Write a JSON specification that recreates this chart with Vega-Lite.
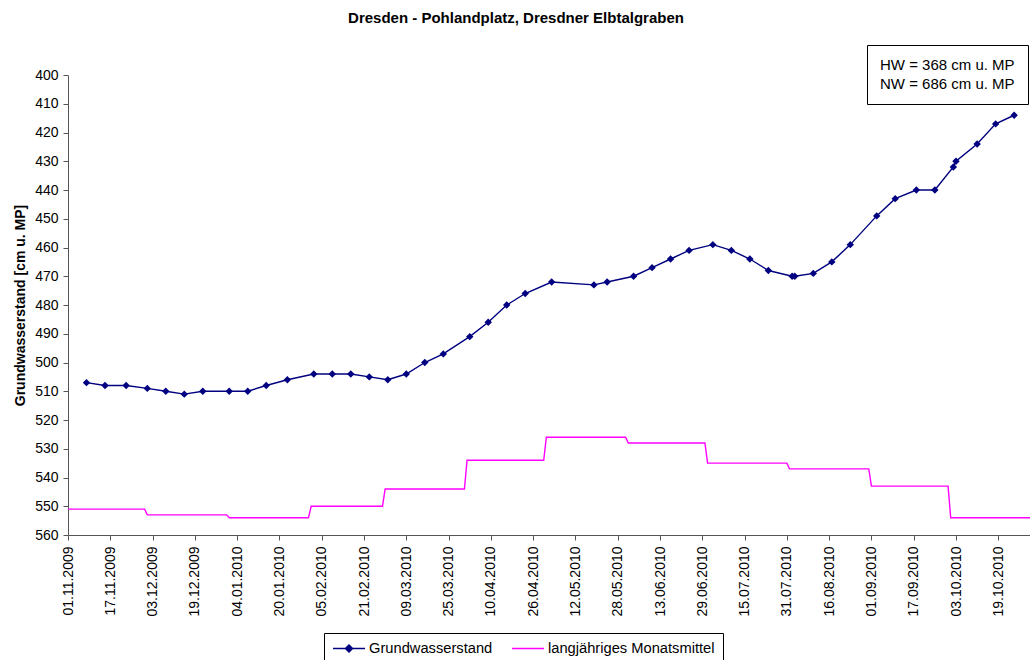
{
  "$schema": "https://vega.github.io/schema/vega-lite/v6.json",
  "width": 962,
  "height": 460,
  "autosize": {"type": "none"},
  "padding": {"left": 68, "top": 75, "right": 0, "bottom": 125},
  "background": "white",
  "config": {
    "view": {"stroke": null},
    "font": "Liberation Sans",
    "axis": {
      "domainColor": "#555555",
      "tickColor": "#555555",
      "labelColor": "black",
      "labelFont": "Liberation Sans",
      "labelFontSize": 14,
      "tickSize": 5,
      "grid": false,
      "titleColor": "black",
      "titleFont": "Liberation Sans"
    },
    "legend": {
      "labelFont": "Liberation Sans",
      "labelColor": "black"
    }
  },
  "title": {
    "text": "Dresden - Pohlandplatz, Dresdner Elbtalgraben",
    "font": "Liberation Sans",
    "fontSize": 15,
    "fontWeight": "bold",
    "color": "black",
    "anchor": "middle",
    "dx": -33,
    "dy": 15,
    "offset": 22,
    "baseline": "alphabetic"
  },
  "layer": [
    {
      "data": {
        "values": [
          {"series": "Grundwasserstand", "date": "2009-11-08", "value": 507},
          {"series": "Grundwasserstand", "date": "2009-11-15", "value": 508},
          {"series": "Grundwasserstand", "date": "2009-11-23", "value": 508},
          {"series": "Grundwasserstand", "date": "2009-12-01", "value": 509},
          {"series": "Grundwasserstand", "date": "2009-12-08", "value": 510},
          {"series": "Grundwasserstand", "date": "2009-12-15", "value": 511},
          {"series": "Grundwasserstand", "date": "2009-12-22", "value": 510},
          {"series": "Grundwasserstand", "date": "2010-01-01", "value": 510},
          {"series": "Grundwasserstand", "date": "2010-01-08", "value": 510},
          {"series": "Grundwasserstand", "date": "2010-01-15", "value": 508},
          {"series": "Grundwasserstand", "date": "2010-01-23", "value": 506},
          {"series": "Grundwasserstand", "date": "2010-02-02", "value": 504},
          {"series": "Grundwasserstand", "date": "2010-02-09", "value": 504},
          {"series": "Grundwasserstand", "date": "2010-02-16", "value": 504},
          {"series": "Grundwasserstand", "date": "2010-02-23", "value": 505},
          {"series": "Grundwasserstand", "date": "2010-03-02", "value": 506},
          {"series": "Grundwasserstand", "date": "2010-03-09", "value": 504},
          {"series": "Grundwasserstand", "date": "2010-03-16", "value": 500},
          {"series": "Grundwasserstand", "date": "2010-03-23", "value": 497},
          {"series": "Grundwasserstand", "date": "2010-04-02", "value": 491},
          {"series": "Grundwasserstand", "date": "2010-04-09", "value": 486},
          {"series": "Grundwasserstand", "date": "2010-04-16", "value": 480},
          {"series": "Grundwasserstand", "date": "2010-04-23", "value": 476},
          {"series": "Grundwasserstand", "date": "2010-05-03", "value": 472},
          {"series": "Grundwasserstand", "date": "2010-05-19", "value": 473},
          {"series": "Grundwasserstand", "date": "2010-05-24", "value": 472},
          {"series": "Grundwasserstand", "date": "2010-06-03", "value": 470},
          {"series": "Grundwasserstand", "date": "2010-06-10", "value": 467},
          {"series": "Grundwasserstand", "date": "2010-06-17", "value": 464},
          {"series": "Grundwasserstand", "date": "2010-06-24", "value": 461},
          {"series": "Grundwasserstand", "date": "2010-07-03", "value": 459},
          {"series": "Grundwasserstand", "date": "2010-07-10", "value": 461},
          {"series": "Grundwasserstand", "date": "2010-07-17", "value": 464},
          {"series": "Grundwasserstand", "date": "2010-07-24", "value": 468},
          {"series": "Grundwasserstand", "date": "2010-08-02", "value": 470},
          {"series": "Grundwasserstand", "date": "2010-08-03", "value": 470},
          {"series": "Grundwasserstand", "date": "2010-08-10", "value": 469},
          {"series": "Grundwasserstand", "date": "2010-08-17", "value": 465},
          {"series": "Grundwasserstand", "date": "2010-08-24", "value": 459},
          {"series": "Grundwasserstand", "date": "2010-09-03", "value": 449},
          {"series": "Grundwasserstand", "date": "2010-09-10", "value": 443},
          {"series": "Grundwasserstand", "date": "2010-09-18", "value": 440},
          {"series": "Grundwasserstand", "date": "2010-09-25", "value": 440},
          {"series": "Grundwasserstand", "date": "2010-10-02", "value": 432},
          {"series": "Grundwasserstand", "date": "2010-10-03", "value": 430},
          {"series": "Grundwasserstand", "date": "2010-10-11", "value": 424},
          {"series": "Grundwasserstand", "date": "2010-10-18", "value": 417},
          {"series": "Grundwasserstand", "date": "2010-10-25", "value": 414},
          {"series": "langjähriges Monatsmittel", "date": "2009-11-01", "value": 551},
          {"series": "langjähriges Monatsmittel", "date": "2009-11-30", "value": 551},
          {"series": "langjähriges Monatsmittel", "date": "2009-12-01", "value": 553},
          {"series": "langjähriges Monatsmittel", "date": "2009-12-31", "value": 553},
          {"series": "langjähriges Monatsmittel", "date": "2010-01-01", "value": 554},
          {"series": "langjähriges Monatsmittel", "date": "2010-01-31", "value": 554},
          {"series": "langjähriges Monatsmittel", "date": "2010-02-01", "value": 550},
          {"series": "langjähriges Monatsmittel", "date": "2010-02-28", "value": 550},
          {"series": "langjähriges Monatsmittel", "date": "2010-03-01", "value": 544},
          {"series": "langjähriges Monatsmittel", "date": "2010-03-31", "value": 544},
          {"series": "langjähriges Monatsmittel", "date": "2010-04-01", "value": 534},
          {"series": "langjähriges Monatsmittel", "date": "2010-04-30", "value": 534},
          {"series": "langjähriges Monatsmittel", "date": "2010-05-01", "value": 526},
          {"series": "langjähriges Monatsmittel", "date": "2010-05-31", "value": 526},
          {"series": "langjähriges Monatsmittel", "date": "2010-06-01", "value": 528},
          {"series": "langjähriges Monatsmittel", "date": "2010-06-30", "value": 528},
          {"series": "langjähriges Monatsmittel", "date": "2010-07-01", "value": 535},
          {"series": "langjähriges Monatsmittel", "date": "2010-07-31", "value": 535},
          {"series": "langjähriges Monatsmittel", "date": "2010-08-01", "value": 537},
          {"series": "langjähriges Monatsmittel", "date": "2010-08-31", "value": 537},
          {"series": "langjähriges Monatsmittel", "date": "2010-09-01", "value": 543},
          {"series": "langjähriges Monatsmittel", "date": "2010-09-30", "value": 543},
          {"series": "langjähriges Monatsmittel", "date": "2010-10-01", "value": 554},
          {"series": "langjähriges Monatsmittel", "date": "2010-10-31", "value": 554}
        ]
      },
      "encoding": {
        "x": {
          "field": "date",
          "type": "temporal",
          "scale": {
            "type": "utc",
            "domain": [
              {"year": 2009, "month": 11, "date": 1, "utc": true},
              {"year": 2010, "month": 10, "date": 31, "utc": true}
            ]
          },
          "axis": {
            "title": null,
            "format": "%d.%m.%Y",
            "labelAngle": -90,
            "labelPadding": 6,
            "labelOverlap": false,
            "labelFlush": false,
            "values": [
              {"year": 2009, "month": 11, "date": 1, "utc": true},
              {"year": 2009, "month": 11, "date": 17, "utc": true},
              {"year": 2009, "month": 12, "date": 3, "utc": true},
              {"year": 2009, "month": 12, "date": 19, "utc": true},
              {"year": 2010, "month": 1, "date": 4, "utc": true},
              {"year": 2010, "month": 1, "date": 20, "utc": true},
              {"year": 2010, "month": 2, "date": 5, "utc": true},
              {"year": 2010, "month": 2, "date": 21, "utc": true},
              {"year": 2010, "month": 3, "date": 9, "utc": true},
              {"year": 2010, "month": 3, "date": 25, "utc": true},
              {"year": 2010, "month": 4, "date": 10, "utc": true},
              {"year": 2010, "month": 4, "date": 26, "utc": true},
              {"year": 2010, "month": 5, "date": 12, "utc": true},
              {"year": 2010, "month": 5, "date": 28, "utc": true},
              {"year": 2010, "month": 6, "date": 13, "utc": true},
              {"year": 2010, "month": 6, "date": 29, "utc": true},
              {"year": 2010, "month": 7, "date": 15, "utc": true},
              {"year": 2010, "month": 7, "date": 31, "utc": true},
              {"year": 2010, "month": 8, "date": 16, "utc": true},
              {"year": 2010, "month": 9, "date": 1, "utc": true},
              {"year": 2010, "month": 9, "date": 17, "utc": true},
              {"year": 2010, "month": 10, "date": 3, "utc": true},
              {"year": 2010, "month": 10, "date": 19, "utc": true}
            ]
          }
        },
        "y": {
          "field": "value",
          "type": "quantitative",
          "scale": {"domain": [400, 560], "reverse": true, "nice": false, "zero": false},
          "axis": {
            "title": "Grundwasserstand [cm u. MP]",
            "titleFontSize": 14,
            "titleFontWeight": "bold",
            "titlePadding": 7,
            "labelPadding": 5,
            "labelOverlap": false,
            "labelFlush": false,
            "values": [400, 410, 420, 430, 440, 450, 460, 470, 480, 490, 500, 510, 520, 530, 540, 550, 560]
          }
        }
      },
      "layer": [
        {
          "mark": {"type": "line", "strokeWidth": 1.4, "clip": false},
          "encoding": {
            "color": {
              "field": "series",
              "type": "nominal",
              "scale": {
                "domain": ["Grundwasserstand", "langjähriges Monatsmittel"],
                "range": ["#000080", "#FF00FF"]
              },
              "legend": {
                "title": null,
                "orient": "none",
                "legendX": 256,
                "legendY": 558,
                "direction": "horizontal",
                "strokeColor": "black",
                "fillColor": "white",
                "padding": 8,
                "labelFontSize": 14.7,
                "labelLimit": 300,
                "labelOffset": 3,
                "columnPadding": 18,
                "symbolSize": 1024,
                "clipHeight": 15,
                "symbolStrokeWidth": 1.5,
                "encode": {
                  "symbols": {
                    "update": {
                      "shape": {"signal": "datum.value === 'Grundwasserstand' ? 'M-1,0H1M0,-0.22L0.22,0L0,0.22L-0.22,0Z' : 'M-1,0H1'"},
                      "fill": {"signal": "datum.value === 'Grundwasserstand' ? '#000080' : 'transparent'"},
                      "stroke": {"signal": "datum.value === 'Grundwasserstand' ? '#000080' : '#FF00FF'"},
                      "strokeWidth": {"value": 1.5},
                      "opacity": {"value": 1}
                    }
                  }
                }
              }
            }
          }
        },
        {
          "transform": [{"filter": "datum.series === 'Grundwasserstand'"}],
          "mark": {"type": "point", "shape": "diamond", "filled": true, "size": 55, "color": "#000080", "opacity": 1, "clip": false}
        }
      ]
    },
    {
      "data": {"values": [{"note": "HW = 368 cm u. MP"}, {"note": "NW = 686 cm u. MP"}]},
      "mark": {"type": "point", "opacity": 0},
      "encoding": {
        "shape": {
          "field": "note",
          "type": "nominal",
          "legend": {
            "title": null,
            "orient": "none",
            "legendX": 799,
            "legendY": -30,
            "direction": "vertical",
            "strokeColor": "black",
            "fillColor": "white",
            "padding": 12.5,
            "labelFontSize": 15,
            "labelLimit": 300,
            "labelOffset": -14.5,
            "rowPadding": 2.5,
            "clipHeight": 15,
            "symbolSize": 0,
            "symbolOpacity": 0,
            "symbolStrokeWidth": 0
          }
        }
      }
    }
  ]
}
